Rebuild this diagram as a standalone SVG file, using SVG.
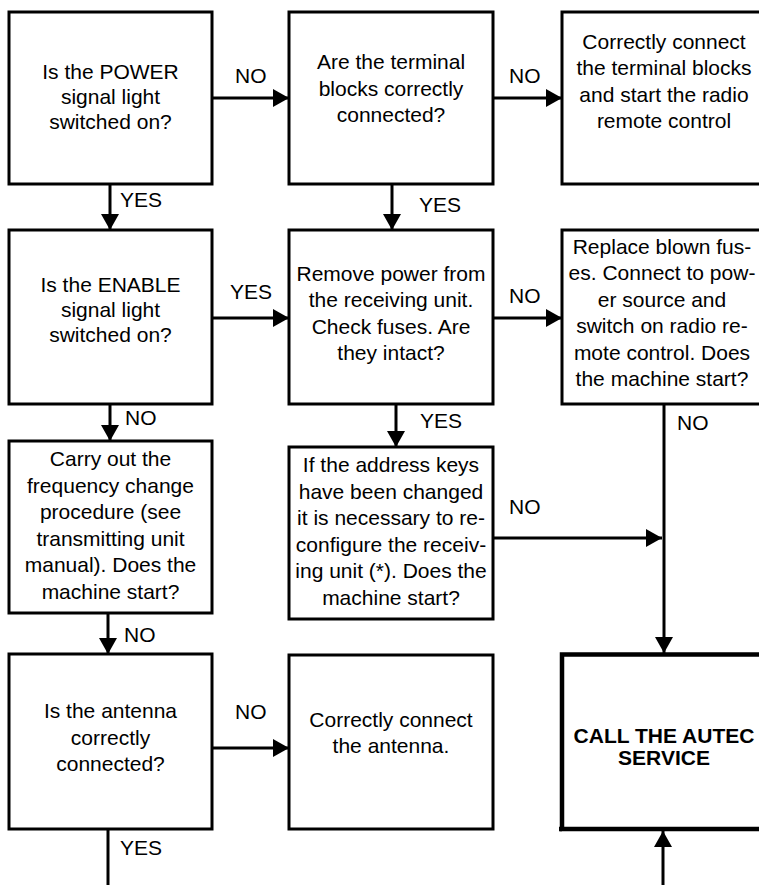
<svg xmlns="http://www.w3.org/2000/svg" width="759" height="885" viewBox="0 0 759 885">
<style>
.box{fill:#fff;stroke:#000;stroke-width:3}
.box2{fill:#fff;stroke:#000;stroke-width:4.5}
.t{font-family:"Liberation Sans",Arial,sans-serif;font-size:21px;fill:#000;text-anchor:middle}
.b{font-weight:bold}
.lbl{font-family:"Liberation Sans",Arial,sans-serif;font-size:21px;fill:#000}
.c{stroke:#000;stroke-width:3;fill:none}
</style>
<defs>
<marker id="ah" markerUnits="userSpaceOnUse" markerWidth="17" markerHeight="19" refX="16" refY="9" orient="auto">
<path d="M0,0 L16,9 L0,18 z" fill="#000"/>
</marker>
</defs>
<rect width="759" height="885" fill="#fff"/>
<g id="connectors">
<line class="c" x1="212" y1="98" x2="289" y2="98" marker-end="url(#ah)"/>
<line class="c" x1="493" y1="98" x2="562" y2="98" marker-end="url(#ah)"/>
<line class="c" x1="110" y1="184" x2="110" y2="230" marker-end="url(#ah)"/>
<line class="c" x1="392" y1="184" x2="392" y2="230" marker-end="url(#ah)"/>
<line class="c" x1="212" y1="318" x2="289" y2="318" marker-end="url(#ah)"/>
<line class="c" x1="493" y1="318" x2="562" y2="318" marker-end="url(#ah)"/>
<line class="c" x1="110" y1="404" x2="110" y2="441" marker-end="url(#ah)"/>
<line class="c" x1="396" y1="404" x2="396" y2="447" marker-end="url(#ah)"/>
<line class="c" x1="493" y1="538" x2="662" y2="538" marker-end="url(#ah)"/>
<line class="c" x1="664" y1="404" x2="664" y2="653" marker-end="url(#ah)"/>
<line class="c" x1="108" y1="613" x2="108" y2="654" marker-end="url(#ah)"/>
<line class="c" x1="212" y1="748" x2="289" y2="748" marker-end="url(#ah)"/>
<line class="c" x1="108" y1="829" x2="108" y2="885"/>
<line class="c" x1="663" y1="885" x2="663" y2="831" marker-end="url(#ah)"/>
<text class="lbl" x="235" y="83">NO</text>
<text class="lbl" x="509" y="83">NO</text>
<text class="lbl" x="120" y="207">YES</text>
<text class="lbl" x="419" y="212">YES</text>
<text class="lbl" x="230" y="299">YES</text>
<text class="lbl" x="509" y="303">NO</text>
<text class="lbl" x="125" y="425">NO</text>
<text class="lbl" x="420" y="428">YES</text>
<text class="lbl" x="677" y="430">NO</text>
<text class="lbl" x="509" y="514">NO</text>
<text class="lbl" x="124" y="642">NO</text>
<text class="lbl" x="235" y="719">NO</text>
<text class="lbl" x="120" y="855">YES</text>
</g>
<g id="n1">
<rect class="box" x="9" y="12" width="203" height="172"/>
<text class="t" x="110.5" y="79">Is the POWER</text>
<text class="t" x="110.5" y="104">signal light</text>
<text class="t" x="110.5" y="129">switched on?</text>
</g>
<g id="n2">
<rect class="box" x="289" y="12" width="204" height="172"/>
<text class="t" x="391" y="69">Are the terminal</text>
<text class="t" x="391" y="95.5">blocks correctly</text>
<text class="t" x="391" y="122">connected?</text>
</g>
<g id="n3">
<rect class="box" x="562" y="12" width="204" height="172"/>
<text class="t" x="664" y="48.5">Correctly connect</text>
<text class="t" x="664" y="75">the terminal blocks</text>
<text class="t" x="664" y="101.5">and start the radio</text>
<text class="t" x="664" y="128">remote control</text>
</g>
<g id="n4">
<rect class="box" x="9" y="230" width="203" height="174"/>
<text class="t" x="110.5" y="292">Is the ENABLE</text>
<text class="t" x="110.5" y="317">signal light</text>
<text class="t" x="110.5" y="342">switched on?</text>
</g>
<g id="n6">
<rect class="box" x="289" y="230" width="204" height="174"/>
<text class="t" x="391" y="280.5">Remove power from</text>
<text class="t" x="391" y="307">the receiving unit.</text>
<text class="t" x="391" y="333.5">Check fuses. Are</text>
<text class="t" x="391" y="360">they intact?</text>
</g>
<g id="n7">
<rect class="box" x="562" y="230" width="204" height="174"/>
<text class="t" x="662" y="253.5">Replace blown fus-</text>
<text class="t" x="662" y="280">es. Connect to pow-</text>
<text class="t" x="662" y="306.5">er source and</text>
<text class="t" x="662" y="333">switch on radio re-</text>
<text class="t" x="662" y="359.5">mote control. Does</text>
<text class="t" x="662" y="386">the machine start?</text>
</g>
<g id="n5">
<rect class="box" x="9" y="441" width="203" height="172"/>
<text class="t" x="110.5" y="466">Carry out the</text>
<text class="t" x="110.5" y="492.5">frequency change</text>
<text class="t" x="110.5" y="519">procedure (see</text>
<text class="t" x="110.5" y="545.5">transmitting unit</text>
<text class="t" x="110.5" y="572">manual). Does the</text>
<text class="t" x="110.5" y="598.5">machine start?</text>
</g>
<g id="n8">
<rect class="box" x="289" y="447" width="204" height="172"/>
<text class="t" x="391" y="472">If the address keys</text>
<text class="t" x="391" y="498.5">have been changed</text>
<text class="t" x="391" y="525">it is necessary to re-</text>
<text class="t" x="391" y="551.5">configure the receiv-</text>
<text class="t" x="391" y="578">ing unit (*). Does the</text>
<text class="t" x="391" y="604.5">machine start?</text>
</g>
<g id="n9">
<rect class="box" x="9" y="654" width="203" height="175"/>
<text class="t" x="110.5" y="718">Is the antenna</text>
<text class="t" x="110.5" y="744.5">correctly</text>
<text class="t" x="110.5" y="771">connected?</text>
</g>
<g id="n10">
<rect class="box" x="289" y="655" width="204" height="174"/>
<text class="t" x="391" y="727">Correctly connect</text>
<text class="t" x="391" y="753">the antenna.</text>
</g>
<g id="n11">
<rect class="box2" x="562" y="654.5" width="205" height="174.5"/>
<line x1="559" y1="829" x2="562" y2="829" stroke="#000" stroke-width="4.5"/>
<text class="t b" x="664" y="743">CALL THE AUTEC</text>
<text class="t b" x="664" y="765">SERVICE</text>
</g>
</svg>
